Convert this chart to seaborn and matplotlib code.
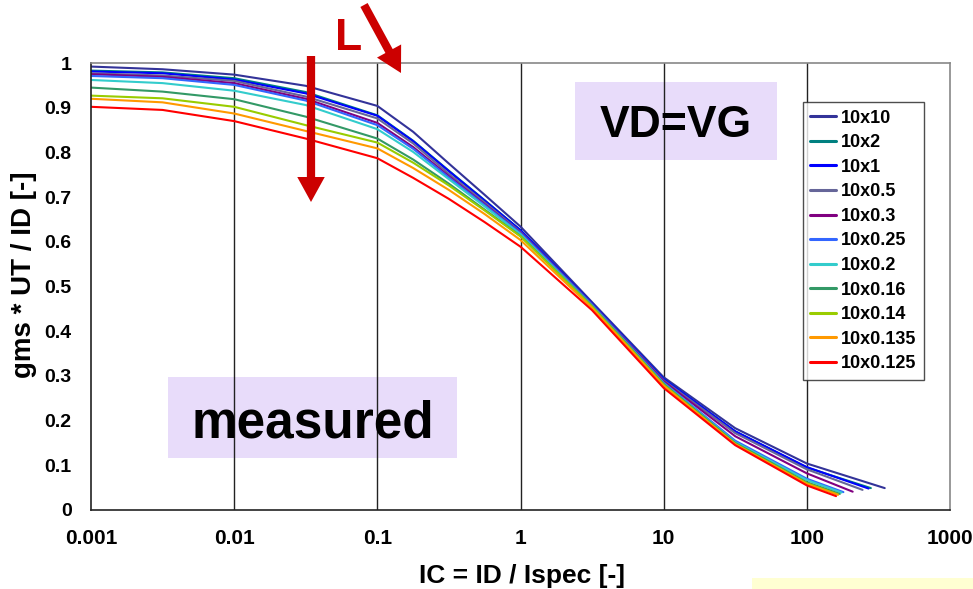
import numpy as np
import pandas as pd
import matplotlib
matplotlib.use("Agg")
import matplotlib.pyplot as plt
import seaborn as sns
from matplotlib.lines import Line2D
from matplotlib.patches import Rectangle, FancyArrowPatch
from matplotlib.ticker import FixedLocator, NullFormatter, LogLocator

# ---------------- data ----------------
ic_grid = [0.001, 0.00316, 0.01, 0.0316, 0.1, 0.178, 0.316, 0.562, 1, 3.16, 10, 31.6, 100]

series_names = ["10x10", "10x2", "10x1", "10x0.5", "10x0.3", "10x0.25",
                "10x0.2", "10x0.16", "10x0.14", "10x0.135", "10x0.125"]
series_colors = ["#333399", "#008080", "#0000FF", "#666699", "#800080", "#3366FF",
                 "#33CCCC", "#339966", "#99CC00", "#FF9900", "#FF0000"]

y_10x10   = [0.992, 0.986, 0.974, 0.949, 0.904, 0.846, 0.775, 0.705, 0.634, 0.465, 0.297, 0.183, 0.104]
y_10x2    = [0.983, 0.979, 0.966, 0.935, 0.883, 0.826, 0.759, 0.693, 0.626, 0.461, 0.293, 0.176, 0.095]
y_10x1    = [0.981, 0.977, 0.963, 0.932, 0.882, 0.825, 0.758, 0.692, 0.626, 0.462, 0.293, 0.176, 0.096]
y_10x0_5  = [0.977, 0.972, 0.960, 0.925, 0.876, 0.820, 0.752, 0.688, 0.622, 0.460, 0.290, 0.172, 0.091]
y_10x0_3  = [0.975, 0.969, 0.955, 0.920, 0.866, 0.812, 0.747, 0.684, 0.620, 0.458, 0.288, 0.165, 0.082]
y_10x0_25 = [0.971, 0.966, 0.951, 0.916, 0.861, 0.808, 0.744, 0.682, 0.619, 0.458, 0.285, 0.155, 0.070]
y_10x0_2  = [0.962, 0.955, 0.938, 0.906, 0.852, 0.801, 0.740, 0.679, 0.617, 0.457, 0.283, 0.152, 0.067]
y_10x0_16 = [0.945, 0.936, 0.919, 0.880, 0.831, 0.784, 0.730, 0.672, 0.613, 0.456, 0.282, 0.150, 0.062]
y_10x0_14 = [0.927, 0.921, 0.902, 0.861, 0.822, 0.777, 0.726, 0.670, 0.612, 0.455, 0.280, 0.148, 0.060]
y_10x0_135 = [0.920, 0.912, 0.887, 0.848, 0.809, 0.765, 0.716, 0.662, 0.604, 0.452, 0.278, 0.147, 0.058]
y_10x0_125 = [0.902, 0.895, 0.870, 0.831, 0.787, 0.743, 0.696, 0.644, 0.589, 0.447, 0.273, 0.145, 0.055]

end_ic = [350, 280, 270, 245, 209, 180, 175, 170, 165, 165, 160]
end_y = [0.049, 0.049, 0.048, 0.045, 0.041, 0.040, 0.039, 0.036, 0.035, 0.034, 0.031]

x_ticks = [0.001, 0.01, 0.1, 1, 10, 100, 1000]
x_ticklabels = ["0.001", "0.01", "0.1", "1", "10", "100", "1000"]
y_ticks = [0, 0.1, 0.2, 0.3, 0.4, 0.5, 0.6, 0.7, 0.8, 0.9, 1.0]
y_ticklabels = ["0", "0.1", "0.2", "0.3", "0.4", "0.5", "0.6", "0.7", "0.8", "0.9", "1"]

# ---------------- build long table ----------------
all_y = [y_10x10, y_10x2, y_10x1, y_10x0_5, y_10x0_3, y_10x0_25,
         y_10x0_2, y_10x0_16, y_10x0_14, y_10x0_135, y_10x0_125]
rows = []
for name, ys, xe, ye in zip(series_names, all_y, end_ic, end_y):
    for xv, yv in zip(ic_grid + [xe], ys + [ye]):
        rows.append({"IC": xv, "gm": yv, "device": name})
df = pd.DataFrame(rows)

# ---------------- figure ----------------
sns.set_style("white")
plt.rcParams["font.family"] = ["Liberation Sans", "DejaVu Sans"]
plt.rcParams["font.weight"] = "bold"
plt.rcParams["text.color"] = "black"
plt.rcParams["xtick.color"] = "black"
plt.rcParams["ytick.color"] = "black"
plt.rcParams["axes.labelcolor"] = "black"

W, H = 973, 589
fig = plt.figure(figsize=(W / 100, H / 100), dpi=100)
fig.patch.set_facecolor("white")
ax = fig.add_axes([91 / W, (H - 510) / H, (950 - 91) / W, (510 - 63) / H])
ax.set_facecolor("white")

def fx(px):
    return px / W

def fy(py):
    return 1 - py / H

# annotation boxes (behind everything)
for (x0, y0, x1, y1) in [(575, 82, 777, 160), (168, 377, 457, 458)]:
    r = Rectangle((fx(x0), fy(y1)), fx(x1) - fx(x0), fy(y0) - fy(y1),
                  transform=fig.transFigure, facecolor="#E8DCFA",
                  edgecolor="none", zorder=0.5, clip_on=False)
    ax.add_patch(r)

# decade grid lines
for xv in x_ticks[1:-1]:
    ax.axvline(xv, color="#222222", lw=1.0, zorder=1.2)

sns.lineplot(data=df, x="IC", y="gm", hue="device", hue_order=series_names,
             palette=series_colors, estimator=None, sort=False, units="device",
             lw=1.5, legend=False, ax=ax, zorder=2)

ax.set_xscale("log")
ax.set_xlim(0.001, 1000)
ax.set_ylim(0, 1)
ax.set_xlabel("")
ax.set_ylabel("")
ax.xaxis.set_major_locator(FixedLocator(x_ticks))
ax.set_xticklabels(x_ticklabels)
ax.xaxis.set_minor_locator(LogLocator(base=10, subs=np.arange(2, 10)))
ax.xaxis.set_minor_formatter(NullFormatter())
ax.yaxis.set_major_locator(FixedLocator(y_ticks))
ax.set_yticklabels(y_ticklabels)
ax.yaxis.set_minor_locator(FixedLocator(np.arange(0, 1.001, 0.02)))

ax.tick_params(axis="both", which="both", direction="in", color="#333333")
ax.tick_params(axis="both", which="major", length=6, width=1)
ax.tick_params(axis="both", which="minor", length=5, width=1)
ax.tick_params(axis="x", which="major", labelsize=15, pad=14, labelcolor="black")
ax.tick_params(axis="y", which="major", labelsize=14, pad=14, labelcolor="black")
for lab in ax.get_xticklabels() + ax.get_yticklabels():
    lab.set_fontweight("bold")

for s in ["left", "bottom"]:
    ax.spines[s].set_color("#222222")
    ax.spines[s].set_linewidth(1.2)
for s in ["top", "right"]:
    ax.spines[s].set_color("#888888")
    ax.spines[s].set_linewidth(1.2)

# axis titles placed as in the reference
fig.text(fx(522), fy(576), "IC = ID / Ispec [-]", fontsize=19, fontweight="bold",
         ha="center", va="center", color="black")
fig.text(fx(24), fy(275), "gms * UT / ID [-]", fontsize=20, fontweight="bold",
         ha="center", va="center", rotation=90, color="black")

# legend
handles = [Line2D([0], [0], color=c, lw=2.2) for c in series_colors]
leg = ax.legend(handles, series_names, loc="upper left",
                bbox_to_anchor=(0.829, 0.912), frameon=True, fancybox=False,
                prop={"size": 13, "weight": "bold"}, handlelength=1.4,
                handletextpad=0.3, labelspacing=0.42, borderpad=0.4,
                borderaxespad=0)
leg.get_frame().set_edgecolor("#222222")
leg.get_frame().set_linewidth(1.0)
leg.set_zorder(5)
for t in leg.get_texts():
    t.set_color("black")

# texts in boxes
fig.text(fx(676), fy(137), "VD=VG", fontsize=32, fontweight="bold",
         ha="center", va="baseline", zorder=6, color="black")
fig.text(fx(313), fy(437), "measured", fontsize=37, fontweight="bold",
         ha="center", va="baseline", zorder=6, color="black")

# red "L" and arrows
red = "#CC0000"
fig.text(fx(349), fy(50), "L", fontsize=32, fontweight="bold", color=red,
         ha="center", va="baseline")
arr_style = "simple,head_length=1.0,head_width=1.1,tail_width=0.33"
a1 = FancyArrowPatch((fx(311), fy(56)), (fx(311), fy(202)),
                     transform=fig.transFigure, arrowstyle=arr_style,
                     mutation_scale=18, color=red, lw=0, shrinkA=0, shrinkB=0)
a2 = FancyArrowPatch((fx(364), fy(5)), (fx(401), fy(73)),
                     transform=fig.transFigure, arrowstyle=arr_style,
                     mutation_scale=18, color=red, lw=0, shrinkA=0, shrinkB=0)
fig.patches.extend([a1, a2])

# faint yellow strip at bottom right
fig.patches.append(Rectangle((fx(752), 0), fx(973) - fx(752), fy(578),
                             transform=fig.transFigure, facecolor="#FFFFD2",
                             edgecolor="none"))

fig.savefig("out.png", dpi=100, facecolor="white")
